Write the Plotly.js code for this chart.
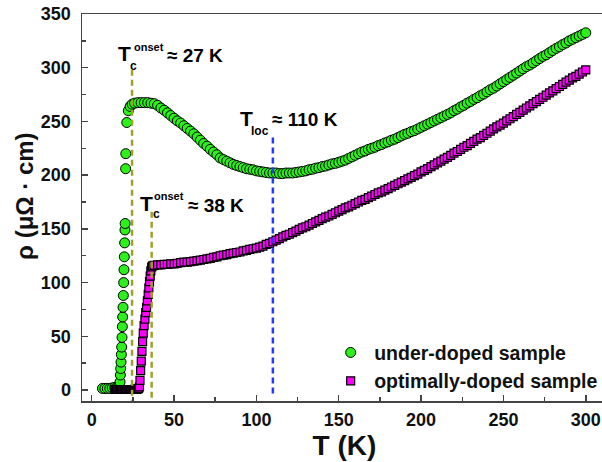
<!DOCTYPE html>
<html>
<head>
<meta charset="utf-8">
<script src="https://cdn.plot.ly/plotly-3.0.1.min.js"></script>
<style>
html,body{margin:0;padding:0;overflow:hidden;background:#fff;}
#chart{width:610px;height:462px;}
</style>
</head>
<body>
<div id="chart"></div>
<script>
// ---- under-doped sample (green circles) ----
const underT = [6.5, 8, 9.5, 11, 12.5, 14, 15.5, 16.5,
  17.2, 17.4, 17.6, 17.8, 18.0, 18.2, 18.4, 18.6, 18.8, 19.0, 19.2, 19.4, 19.6, 19.8, 20.0, 20.2, 20.3,
  20.6, 20.7, 21.3, 22.2, 23.3, 24.5,
  26, 28, 30, 32, 34, 36, 38, 40, 42, 44, 46, 48, 50, 52, 54, 56, 58, 60, 62, 64, 66, 68, 70,
  72, 74, 76, 78, 80, 82, 84, 86, 88, 90, 92, 94, 96, 98, 100, 102, 104, 106, 108, 110,
  112, 114, 116, 118, 120, 122, 124, 126, 128, 130, 132, 134, 136, 138, 140, 142, 144, 146, 148, 150,
  152, 154, 156, 158, 160, 162, 164, 166, 168, 170, 172, 174, 176, 178, 180, 182, 184, 186, 188, 190,
  192, 194, 196, 198, 200, 202, 204, 206, 208, 210, 212, 214, 216, 218, 220, 222, 224, 226, 228, 230,
  232, 234, 236, 238, 240, 242, 244, 246, 248, 250, 252, 254, 256, 258, 260, 262, 264, 266, 268, 270,
  272, 274, 276, 278, 280, 282, 284, 286, 288, 290, 292, 294, 296, 298, 300];
const underRho = [1.5, 1.5, 1.5, 1.5, 2, 2.5, 3, 4,
  7.5, 14, 20, 26, 33, 40, 49, 59, 68, 77, 88, 100, 112, 124, 137, 149, 155,
  206, 220, 249, 260, 264, 266,
  267, 267.5, 267.5, 267.5, 267.5, 267, 266.5, 265, 262.5, 260.5, 258, 255.5, 253, 250.5, 248.5, 246, 243.5, 241, 238.5, 235.5, 232.5, 229.5, 227,
  224, 221.5, 219, 216, 214.5, 213, 211.5, 210, 209, 208, 207, 206, 205.5, 205, 204, 203.5, 203, 202.5, 202, 202,
  202, 201.5, 201.5, 202, 202, 202, 202.5, 203, 203.5, 204, 205, 205.5, 206.5, 207, 208, 208.5, 209.5, 210.5, 211, 212,
  213, 214, 215.5, 217, 218.5, 220, 221.5, 222.5, 224, 225, 226, 227.5, 228.5, 230, 231, 232.5, 233.5, 235, 236.5, 238,
  239, 240.5, 241.5, 243, 244.5, 246, 247.5, 249, 250.5, 252, 253.5, 255, 256.5, 258, 260, 261.5, 263.5, 265, 267, 268.5,
  270.5, 272, 274, 275.5, 277.5, 279.5, 281, 283, 285, 287, 289, 291, 293, 295, 297, 299, 301, 302.5, 304.5, 306.5,
  308.5, 310.5, 312, 314, 316, 318, 319.5, 321.5, 323, 325, 326.5, 328, 329.5, 331, 332.5];

// ---- optimally-doped sample (magenta squares) ----
const optT = [14, 14.5, 15, 15.5, 16, 16.5, 17, 17.5, 18, 18.5, 19, 19.5, 20, 20.5, 21, 21.5, 22, 22.5,
  23, 23.5, 24, 24.5, 25, 25.5, 26, 26.5, 27, 27.5, 28, 28.5, 29,
  29.3, 29.7, 30.1, 30.5, 30.9, 31.3, 31.8, 32.3, 32.8, 33.3, 33.8, 34.3, 34.7, 35.1, 35.5, 35.9, 36.4, 37,
  38, 40, 42, 44, 46, 48, 50, 52, 54, 56, 58, 60, 62, 64, 66, 68, 70,
  72, 74, 76, 78, 80, 82, 84, 86, 88, 90, 92, 94, 96, 98, 100, 102, 104, 106, 108, 110,
  112, 114, 116, 118, 120, 122, 124, 126, 128, 130, 132, 134, 136, 138, 140, 142, 144, 146, 148, 150,
  152, 154, 156, 158, 160, 162, 164, 166, 168, 170, 172, 174, 176, 178, 180, 182, 184, 186, 188, 190,
  192, 194, 196, 198, 200, 202, 204, 206, 208, 210, 212, 214, 216, 218, 220, 222, 224, 226, 228, 230,
  232, 234, 236, 238, 240, 242, 244, 246, 248, 250, 252, 254, 256, 258, 260, 262, 264, 266, 268, 270,
  272, 274, 276, 278, 280, 282, 284, 286, 288, 290, 292, 294, 296, 298, 300];
const optRho = [0.5, 0.5, 0.5, 0.5, 0.5, 0.5, 0.5, 0.5, 0.5, 0.5, 0.5, 0.5, 0.5, 0.5, 0.5, 0.5, 0.5, 0.5,
  0.5, 0.5, 0.5, 0.5, 0.5, 0.5, 0.6, 0.6, 0.7, 0.8, 1, 1.5, 3,
  9, 18, 27, 36, 45, 53, 60, 66, 72, 77, 83, 89, 95, 101, 106, 111, 114.5, 115.5,
  116, 116.5, 116.5, 117, 117, 117.5, 117.5, 118, 118.5, 119, 119, 119.5, 120, 120.5, 121, 121.5, 122,
  122.5, 123.5, 124, 125, 125.5, 126, 127, 127.5, 128, 128.5, 129.5, 130, 131, 131.5, 132, 133, 134, 135.5, 136.5, 138,
  139.5, 141, 142.5, 144, 145, 146.5, 148, 149.5, 151, 152, 153.5, 155, 156.5, 158, 159.5, 161, 162, 163.5, 165, 166.5,
  168, 169.5, 170.5, 172, 173.5, 175, 176.5, 177.5, 179, 180.5, 182, 183.5, 184.5, 186, 187.5, 189, 190.5, 192, 193.5, 195,
  196.5, 198, 199.5, 201, 203, 204.5, 206, 208, 209.5, 211.5, 213, 215, 216.5, 218.5, 220.5, 222, 224, 226, 227.5, 229.5,
  231.5, 233.5, 235, 237, 239, 241, 243, 245, 246.5, 248.5, 250.5, 252.5, 254.5, 256.5, 258.5, 260.5, 262.5, 264.5, 266.5, 268.5,
  270.5, 272.5, 274.5, 276.5, 278.5, 280.5, 282.5, 284.5, 286.5, 288.5, 290.5, 292, 294, 296, 298];

// ---- marker lines ----
const tcUnderT = [24.5, 24.5];
const tcUnderRho = [298, -10];
const tcOptT = [36.4, 36.4];
const tcOptRho = [166, -10];
const tlocT = [110, 110];
const tlocRho = [235, -5];

const seriesNames = ['under-doped sample', 'optimally-doped sample'];
const xTitle = 'T (K)';
const yTitle = 'ρ (μΩ · cm)';

const FONT = 'Liberation Sans, Arial, sans-serif';

const traces = [
  {x: underT, y: underRho, name: seriesNames[0], type: 'scatter', mode: 'markers',
   marker: {symbol: 'circle', size: 10, color: '#2bf01a', line: {color: '#000', width: 1}}},
  {x: optT, y: optRho, name: seriesNames[1], type: 'scatter', mode: 'markers',
   marker: {symbol: 'square', size: 8, color: '#ff00ff', line: {color: '#000', width: 1.2}}},
  {x: tcUnderT, y: tcUnderRho, type: 'scatter', mode: 'lines', showlegend: false, hoverinfo: 'skip',
   line: {color: '#a0a02a', width: 2.5, dash: '6px,4px'}},
  {x: tcOptT, y: tcOptRho, type: 'scatter', mode: 'lines', showlegend: false, hoverinfo: 'skip',
   line: {color: '#a0a02a', width: 2.5, dash: '6px,4px'}},
  {x: tlocT, y: tlocRho, type: 'scatter', mode: 'lines', showlegend: false, hoverinfo: 'skip',
   line: {color: '#1f3cff', width: 2.5, dash: '6px,4px'}}
];

function ann(text, x, y, size) {
  return {text: text, x: x, y: y, xref: 'x', yref: 'y', xanchor: 'left', yanchor: 'middle',
    showarrow: false, borderpad: 0, font: {family: FONT, size: size, color: '#000', weight: 'bold'}};
}

const annotations = [
  ann('T', 15.6, 312.8, 21), ann('onset', 25.0, 319.5, 11), ann('c', 22.8, 301.6, 12), ann('≈ 27 K', 45.3, 311.8, 19),
  ann('T', 29.0, 173.6, 21), ann('onset', 37.5, 180.8, 11), ann('c', 36.4, 163.4, 12), ann('≈ 38 K', 57.8, 172.2, 19),
  ann('T', 89.3, 252.9, 21), ann('loc', 96.1, 241.1, 12), ann('≈ 110 K', 108.6, 251.6, 19),
  {text: yTitle, xref: 'paper', yref: 'paper', x: -0.1086, y: 0.53, xanchor: 'center', yanchor: 'middle',
   textangle: -90, showarrow: false, font: {family: FONT, size: 24, color: '#111', weight: 'bold'}}
];

const axisCommon = {
  showline: true, linecolor: '#444', linewidth: 1.5, mirror: true,
  ticks: 'inside', ticklen: 6, tickwidth: 1.5, tickcolor: '#444',
  showgrid: false, zeroline: false,
  tickfont: {family: FONT, size: 18, color: '#111', weight: 'bold'}
};

const layout = {
  width: 610, height: 462,
  margin: {l: 82, r: 3, t: 14, b: 61},
  paper_bgcolor: '#fff', plot_bgcolor: '#fff',
  showlegend: true,
  legend: {x: 0.467, y: 0.175, xanchor: 'left', yanchor: 'top', bgcolor: 'rgba(0,0,0,0)',
    itemwidth: 37,
    font: {family: FONT, size: 19.5, color: '#111', weight: 'bold'}},
  xaxis: Object.assign({}, axisCommon, {
    range: [-5.9, 312.9], tick0: 0, dtick: 50, ticklabelstandoff: 2,
    minor: {dtick: 25, ticks: 'inside', ticklen: 4, tickwidth: 1.5, tickcolor: '#444'},
    title: {text: xTitle, standoff: 4, font: {family: FONT, size: 28, color: '#111', weight: 'bold'}}
  }),
  yaxis: Object.assign({}, axisCommon, {
    range: [-10.2, 350], tick0: 0, dtick: 50, ticklabelstandoff: 6,
    minor: {dtick: 25, ticks: 'inside', ticklen: 4, tickwidth: 1.5, tickcolor: '#444'}
  }),
  annotations: annotations
};

Plotly.newPlot('chart', traces, layout, {staticPlot: true, displayModeBar: false});
</script>
</body>
</html>
